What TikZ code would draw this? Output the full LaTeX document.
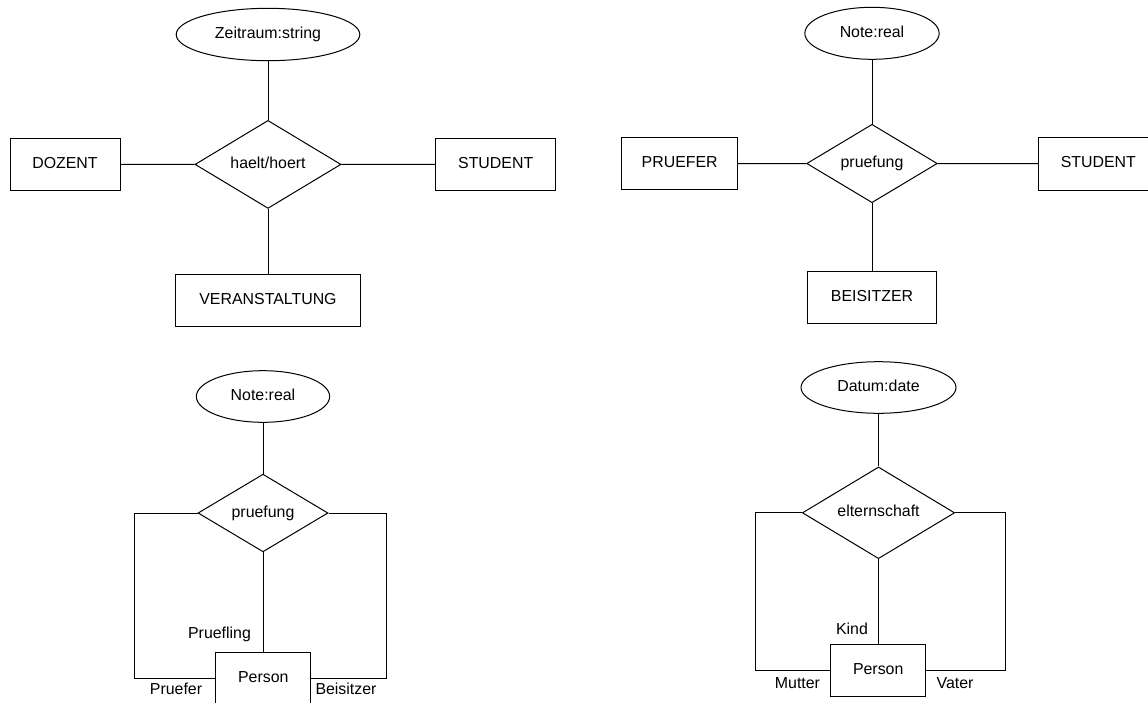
\documentclass[tikz,border=0pt]{standalone}
\usepackage{fontspec}
\setmainfont{Liberation Sans}
\usetikzlibrary{shapes.geometric}

\tikzset{
  erfont/.style={font=\fontsize{15.9}{18}\selectfont},
  erline/.style={draw=black, line width=1pt},
  % text sits slightly above the middle of each shape
  shapetext/.style={text height=11.6pt, text depth=3.6pt},
  entity/.style={erline, erfont, shapetext, rectangle, inner sep=0pt},
  attrib/.style={erline, erfont, shapetext, ellipse, inner sep=0pt},
  relation/.style={erline, erfont, shapetext, diamond, inner sep=0pt, aspect=1.66},
  rolelabel/.style={erfont, inner sep=0pt, text height=11.4pt, text depth=0pt},
  link/.style={line width=1pt}
}

\begin{document}
\begin{tikzpicture}[x=1pt, y=-1pt]
\useasboundingbox (0,0) rectangle (1148,702);
\clip (0,0) rectangle (1148,702);

% --- haelt/hoert (ternary) ---
\node[attrib, minimum width=183.6pt, minimum height=52.4pt] (zeit) at (268,34.5) {Zeitraum:string};
\node[relation, minimum width=146pt, minimum height=88pt] (haelt) at (268,164.4) {haelt/hoert};
\node[entity, minimum width=110pt, minimum height=52.4pt] (dozent) at (65,164.5) {DOZENT};
\node[entity, minimum width=120pt, minimum height=52.4pt] (studA) at (495.7,164.5) {STUDENT};
\node[entity, minimum width=185.7pt, minimum height=52pt] (veran) at (268,300) {VERANSTALTUNG};
\draw[link] (zeit) -- (haelt);
\draw[link] (dozent) -- (haelt);
\draw[link] (haelt) -- (studA);
\draw[link] (haelt) -- (veran);

% --- pruefung (ternary) ---
\node[attrib, minimum width=134.3pt, minimum height=52pt] (noteA) at (872,33.3) {Note:real};
\node[relation, minimum width=130.6pt, minimum height=78.4pt] (pruefA) at (872,163.5) {pruefung};
\node[entity, minimum width=116pt, minimum height=52.6pt] (pruefer) at (679.7,163.6) {PRUEFER};
\node[entity, minimum width=120pt, minimum height=52.4pt] (studB) at (1098.3,163.8) {STUDENT};
\node[entity, minimum width=128.7pt, minimum height=52pt] (beis) at (872,297.3) {BEISITZER};
\draw[link] (noteA) -- (pruefA);
\draw[link] (pruefer) -- (pruefA);
\draw[link] (pruefA) -- (studB);
\draw[link] (pruefA) -- (beis);

% --- pruefung (recursive on Person) ---
\node[attrib, minimum width=133.3pt, minimum height=51.6pt] (noteB) at (263,396.5) {Note:real};
\node[relation, minimum width=130pt, minimum height=77.7pt] (pruefB) at (263,513) {pruefung};
\node[entity, minimum width=95.3pt, minimum height=52pt] (persA) at (263.3,678.3) {Person};
\coordinate (kA1) at (134,513);
\coordinate (kA2) at (386.7,513);
\draw[link] (noteB) -- (pruefB);
\draw[link] (pruefB) -- (pruefB |- persA.north);
\draw[link] (pruefB.west) -- (kA1) |- (persA.west);
\draw[link] (pruefB.east) -- (kA2) |- (persA.east);
\node[rolelabel] (rPruefling) at (219.5,632.7) {Pruefling};
\node[rolelabel] (rPruefer) at (176,688.3) {Pruefer};
\node[rolelabel] (rBeis) at (346,688.3) {Beisitzer};

% --- elternschaft (recursive on Person) ---
\node[attrib, minimum width=155pt, minimum height=51.6pt] (datum) at (878.5,387.5) {Datum:date};
\node[relation, minimum width=152.3pt, minimum height=91.7pt] (eltern) at (878.5,512.8) {elternschaft};
\node[entity, minimum width=95pt, minimum height=52pt] (persB) at (878.2,670.7) {Person};
\coordinate (kB1) at (755.7,512.8);
\coordinate (kB2) at (1005.7,512.8);
\draw[link] (datum) -- (eltern);
\draw[link] (eltern) -- (eltern |- persB.north);
\draw[link] (eltern.west) -- (kB1) |- (persB.west);
\draw[link] (eltern.east) -- (kB2) |- (persB.east);
\node[rolelabel] (rKind) at (852,628.3) {Kind};
\node[rolelabel] (rMutter) at (797.5,682.3) {Mutter};
\node[rolelabel] (rVater) at (955,682.3) {Vater};
\end{tikzpicture}
\end{document}
